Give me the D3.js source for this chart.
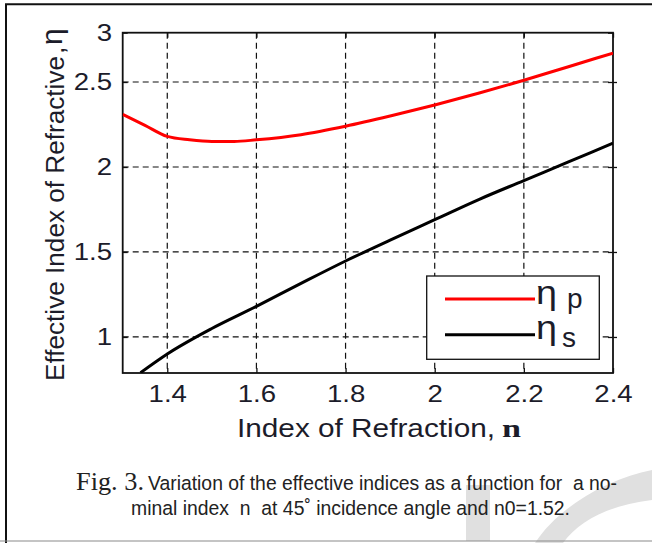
<!DOCTYPE html>
<html><head><meta charset="utf-8">
<script src="https://cdn.jsdelivr.net/npm/d3@7"></script>
<style>
html,body{margin:0;padding:0;background:#fff;}
svg{display:block;}
text{white-space:pre;}
</style></head>
<body>
<svg id="chart" width="652" height="543"></svg>
<script>
// Nominal refractive index n and the effective indices for p and s polarisation
const nP = [1.3, 1.35, 1.4, 1.45, 1.5, 1.55, 1.6, 1.7, 1.8, 1.9, 2.0, 2.1, 2.2, 2.3, 2.4];
const etaP = [2.31, 2.245, 2.18, 2.16, 2.15, 2.15, 2.16, 2.19, 2.24, 2.30, 2.365, 2.435, 2.51, 2.59, 2.67];
const nS = [1.34, 1.4, 1.5, 1.6, 1.7, 1.8, 1.9, 2.0, 2.1, 2.2, 2.3, 2.4];
const etaS = [0.79, 0.90, 1.05, 1.18, 1.315, 1.447, 1.57, 1.69, 1.81, 1.92, 2.03, 2.14];
const xTicks = [1.4, 1.6, 1.8, 2, 2.2, 2.4];
const xTickLabels = ["1.4", "1.6", "1.8", "2", "2.2", "2.4"];
const yTicks = [1, 1.5, 2, 2.5, 3];
const yTickLabels = ["1", "1.5", "2", "2.5", "3"];
const seriesSubs = ["p", "s"];
const seriesColors = ["#ff0000", "#000000"];

const svg = d3.select("#chart");
const ink = "#1c1c2a";
const plot = {left: 122.7, right: 613, top: 32.7, bottom: 373};

const x = d3.scaleLinear().domain([1.3, 2.4]).range([plot.left, plot.right]);
const y = d3.scaleLinear().domain([0.788, 2.79]).range([plot.bottom, plot.top]).clamp(true);

// faint watermark letters behind the caption
svg.append("rect").attr("x", 466).attr("y", 485).attr("width", 24).attr("height", 56).attr("fill", "#e0e0e0");
svg.append("path")
  .attr("d", "M535,543 C560,505 610,478 652,470 L652,500 C610,505 580,520 563,543 Z")
  .attr("fill", "#e0e0e0");

// page frame
svg.append("line").attr("x1", 6).attr("x2", 6).attr("y1", 4).attr("y2", 543).attr("stroke", "#111").attr("stroke-width", 2);
svg.append("line").attr("x1", 5).attr("x2", 652).attr("y1", 4.3).attr("y2", 4.3).attr("stroke", "#111").attr("stroke-width", 2);
svg.append("line").attr("x1", 0).attr("x2", 652).attr("y1", 541).attr("y2", 541).attr("stroke", "#8a8a8a").attr("stroke-width", 1.2);

// dashed grid
const grid = svg.append("g").attr("stroke", "#111").attr("stroke-width", 1.2).attr("stroke-dasharray", "6,4");
grid.selectAll("line.v").data(xTicks.slice(0, -1)).join("line")
  .attr("x1", d => x(d)).attr("x2", d => x(d)).attr("y1", plot.top).attr("y2", plot.bottom);
grid.selectAll("line.h").data(yTicks.slice(0, -1)).join("line")
  .attr("y1", d => y(d)).attr("y2", d => y(d)).attr("x1", plot.left).attr("x2", plot.right);

// axes with inward ticks
const fontTick = "'Liberation Sans', Arial, sans-serif";
const xAxis = svg.append("g").attr("transform", `translate(0,${plot.bottom})`)
  .call(d3.axisBottom(x).tickValues(xTicks).tickFormat((d, i) => xTickLabels[i]).tickSizeInner(-5).tickSizeOuter(0).tickPadding(12));
const yAxis = svg.append("g").attr("transform", `translate(${plot.left},0)`)
  .call(d3.axisLeft(y).tickValues(yTicks).tickFormat((d, i) => yTickLabels[i]).tickSizeInner(-5).tickSizeOuter(0).tickPadding(9.3));
svg.append("g").attr("transform", `translate(0,${plot.top})`)
  .call(d3.axisTop(x).tickValues(xTicks).tickFormat("").tickSizeInner(-5).tickSizeOuter(0));
svg.append("g").attr("transform", `translate(${plot.right},0)`)
  .call(d3.axisRight(y).tickValues(yTicks).tickFormat("").tickSizeInner(-5).tickSizeOuter(0));
svg.append("g").attr("transform", `translate(${plot.right},0)`)
  .call(d3.axisRight(y).tickValues(yTicks.slice(0, -1)).tickFormat("").tickSizeInner(4).tickSizeOuter(0));
svg.selectAll(".domain").remove();
svg.selectAll(".tick line").attr("stroke", "#111").attr("stroke-width", 1.3);
[xAxis, yAxis].forEach(a => a.selectAll(".tick text")
  .attr("font-family", fontTick).attr("font-size", 24).attr("fill", ink)
  .attr("transform", "scale(1.15,1)"));

// plot frame
svg.append("rect").attr("x", plot.left).attr("y", plot.top)
  .attr("width", plot.right - plot.left).attr("height", plot.bottom - plot.top)
  .attr("fill", "none").attr("stroke", "#111").attr("stroke-width", 1.8);

// curves
svg.append("clipPath").attr("id", "plotClip").append("rect")
  .attr("x", plot.left).attr("y", plot.top).attr("width", plot.right - plot.left).attr("height", plot.bottom - plot.top);
const line = d3.line().x(d => x(d[0])).y(d => y(d[1])).curve(d3.curveMonotoneX);
const series = [d3.zip(nP, etaP), d3.zip(nS, etaS)];
svg.append("g").attr("clip-path", "url(#plotClip)")
  .selectAll("path").data(series).join("path")
  .attr("d", line).attr("fill", "none")
  .attr("stroke", (d, i) => seriesColors[i]).attr("stroke-width", 3).attr("stroke-linejoin", "round");

// legend
const lg = svg.append("g");
lg.append("rect").attr("x", 426.7).attr("y", 276).attr("width", 172.6).attr("height", 83.3)
  .attr("fill", "#fff").attr("stroke", "#111").attr("stroke-width", 1.3);
const rows = [{ly: 299, eb: 304, sb: 308, sx: 567}, {ly: 334.7, eb: 339, sb: 347, sx: 562}];
rows.forEach((r, i) => {
  lg.append("line").attr("x1", 445).attr("x2", 535).attr("y1", r.ly).attr("y2", r.ly)
    .attr("stroke", seriesColors[i]).attr("stroke-width", 3);
  lg.append("text").attr("x", 536).attr("y", r.eb)
    .attr("font-family", fontTick).attr("font-size", 33).attr("fill", ink)
    .attr("textLength", 21).attr("lengthAdjust", "spacingAndGlyphs").text("η");
  lg.append("text").attr("x", r.sx).attr("y", r.sb)
    .attr("font-family", fontTick).attr("font-size", 28).attr("fill", ink).text(seriesSubs[i]);
});

// axis titles
svg.append("text").attr("x", 237).attr("y", 437)
  .attr("font-family", fontTick).attr("font-size", 26).attr("fill", ink)
  .attr("textLength", 258).attr("lengthAdjust", "spacingAndGlyphs").text("Index of Refraction,");
svg.append("text").attr("x", 502).attr("y", 437)
  .attr("font-family", "'Liberation Serif', serif").attr("font-weight", "bold").attr("font-size", 25).attr("fill", ink)
  .attr("textLength", 19).attr("lengthAdjust", "spacingAndGlyphs").text("n");

svg.append("text").attr("transform", "translate(64,381) rotate(-90)")
  .attr("font-family", fontTick).attr("font-size", 26).attr("fill", ink)
  .attr("textLength", 325).attr("lengthAdjust", "spacingAndGlyphs").text("Effective Index of Refractive");
svg.append("text").attr("transform", "translate(64,54) rotate(-90)")
  .attr("font-family", fontTick).attr("font-size", 26).attr("fill", ink).text(",");
svg.append("text").attr("transform", "translate(62,45) rotate(-90)")
  .attr("font-family", fontTick).attr("font-size", 30).attr("fill", ink).text("η");

// caption
const capSans = "'Liberation Sans', Arial, sans-serif";
svg.append("text").attr("x", 76).attr("y", 490)
  .attr("font-family", "'Liberation Serif', 'Times New Roman', serif").attr("font-size", 26).attr("fill", "#222")
  .attr("textLength", 68).attr("lengthAdjust", "spacingAndGlyphs").text("Fig. 3.");
svg.append("text").attr("x", 148).attr("y", 490)
  .attr("font-family", capSans).attr("font-size", 20.5).attr("fill", "#222")
  .attr("textLength", 469).attr("lengthAdjust", "spacingAndGlyphs")
  .text("Variation of the effective indices as a function for  a no-");
svg.append("text").attr("x", 131).attr("y", 515)
  .attr("font-family", capSans).attr("font-size", 20.5).attr("fill", "#222")
  .attr("textLength", 439).attr("lengthAdjust", "spacingAndGlyphs")
  .text("minal index  n  at 45˚ incidence angle and n0=1.52.");
</script>
</body></html>
